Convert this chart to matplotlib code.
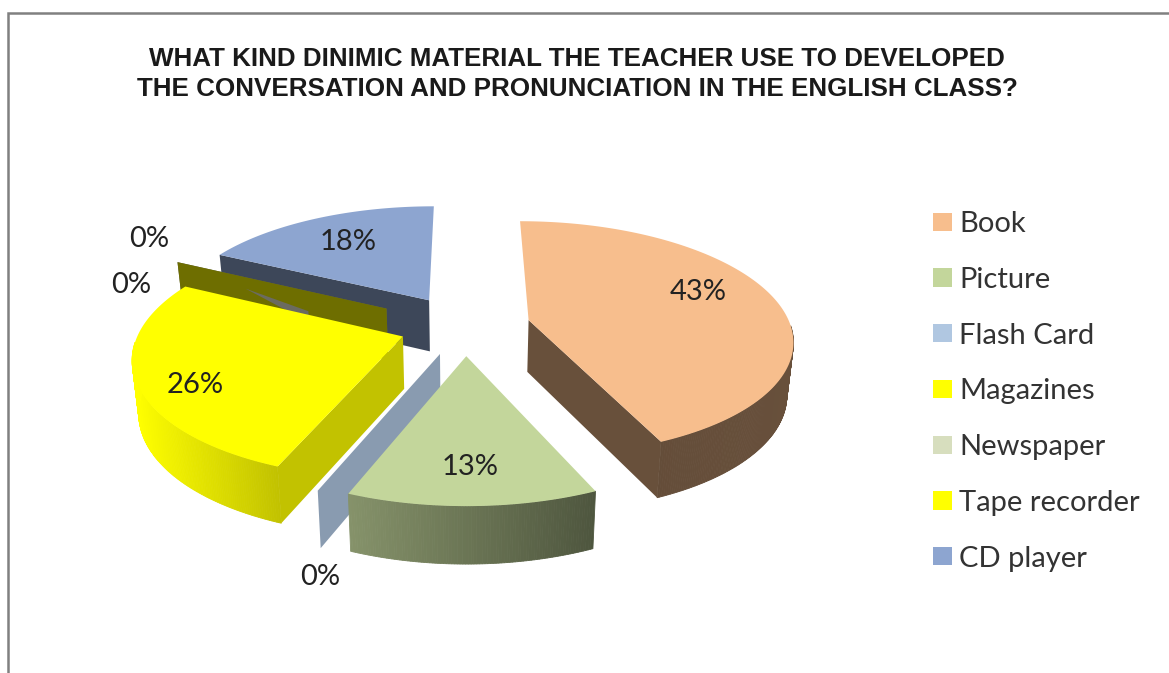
import numpy as np
import matplotlib
matplotlib.use("Agg")
import matplotlib.pyplot as plt
from matplotlib.patches import Polygon, Patch

TITLE = ["WHAT KIND DINIMIC MATERIAL THE TEACHER USE TO DEVELOPED",
         "THE CONVERSATION AND PRONUNCIATION IN THE ENGLISH CLASS?"]
categories = ["Book", "Picture", "Flash Card", "Magazines", "Newspaper", "Tape recorder", "CD player"]
values = [43.4, 12.6, 0, 26.4, 0, 0, 17.6]

colors = ["#F7BE8D", "#C3D69B", "#B0C7E1", "#FFFF00", "#D7DEBE", "#FFFF00", "#8DA5D0"]
cut_shade = [0.42, 0.5, 0.78, 0.76, 0.45, 0.43, 0.43]
explode = [0.25, 0.25, 0.25, 0.25, 0.343, 0.343, 0.27]
label_xy = [(698, 292), (470, 467), (320, 577), (195, 385), (131, 285), (149, 239), (348, 242)]
draw_order = [6, 4, 5, 0, 2, 3, 1]

W, H = 1169, 673
CX, CY, A, B, P, DEPTH = 465, 326, 116, 262, 0.156, 52
plt.rcParams["font.family"] = ["Lato", "DejaVu Sans"]

fig = plt.figure(figsize=(W / 100, H / 100), dpi=100)
ax = fig.add_axes([0, 0, 1, 1])
ax.set_xlim(0, W)
ax.set_ylim(H, 0)
ax.axis("off")

# slice angles, clockwise from 12 o'clock
fractions = np.array(values, float) / sum(values)
ends = np.cumsum(fractions) * 360
starts = ends - fractions * 360


def project(X, Y):
    w = 1 + P * Y
    return CX + B * X / w, CY - A * Y / w


def lower(X, Y):
    x, y = project(X, Y)
    w = 1 + P * Y
    return CX + (x - CX) * 0.98, y + DEPTH / np.sqrt(w)


def shade_at(x):
    return np.interp(x, [133, 283, 352, 596, 790], [1.0, 0.75, 0.68, 0.40, 0.42])


def tint(color, f):
    r, g, b = matplotlib.colors.to_rgb(color)
    return r * f, g * f, b * f


def edge_quad(off, angle):
    rad = np.radians(angle)
    X = np.array([off[0], off[0] + np.sin(rad)])
    Y = np.array([off[1], off[1] + np.cos(rad)])
    tx, ty = project(X, Y)
    bx, by = lower(X, Y)
    return np.array([[tx[0], ty[0]], [tx[1], ty[1]], [bx[1], by[1]], [bx[0], by[0]]])


for order, i in enumerate(draw_order):
    z = order + 1
    a0, a1 = starts[i], ends[i]
    mid = np.radians((a0 + a1) / 2)
    off = (explode[i] * np.sin(mid), explode[i] * np.cos(mid))
    col = colors[i]

    if fractions[i] == 0:
        q = edge_quad(off, a0)
        ax.add_patch(Polygon(q, closed=True, fc=tint(col, cut_shade[i]), ec="none", zorder=z))
        if categories[i] == "Tape recorder":
            # thin grey trace where the Newspaper plane shows through this one
            def on_quad(s, t):
                return (q[0] * (1 - s) + q[1] * s) * (1 - t) + (q[3] * (1 - s) + q[2] * s) * t
            ax.add_patch(Polygon([on_quad(0.68, 0.23), on_quad(0.38, 0.40), on_quad(0.38, 0.62)],
                                 closed=True, fc="#6B6B60", ec="none", zorder=z))
        continue

    th = np.radians(np.linspace(a0, a1, int(a1 - a0) * 2 + 2))
    X = off[0] + np.sin(th)
    Y = off[1] + np.cos(th)
    tx, ty = project(X, Y)
    bx, by = lower(X, Y)

    # outer rim, in narrow strips so the shading varies along it
    for k in range(len(th) - 1):
        if np.cos((th[k] + th[k + 1]) / 2) < -0.05:
            q = [(tx[k], ty[k]), (tx[k + 1], ty[k + 1]), (bx[k + 1], by[k + 1]), (bx[k], by[k])]
            c = tint(col, shade_at((tx[k] + tx[k + 1]) / 2))
            ax.add_patch(Polygon(q, closed=True, fc=c, ec=c, lw=0.6, zorder=z))

    # cut faces that look toward the viewer
    if np.cos(np.radians(a0 - 90)) < -0.01:
        ax.add_patch(Polygon(edge_quad(off, a0), closed=True, fc=tint(col, cut_shade[i]), ec="none", zorder=z))
    if np.cos(np.radians(a1 + 90)) < -0.01:
        ax.add_patch(Polygon(edge_quad(off, a1), closed=True, fc=tint(col, cut_shade[i]), ec="none", zorder=z))

    # top surface
    ax0, ay0 = project(off[0], off[1])
    top = np.column_stack([np.r_[ax0, tx], np.r_[ay0, ty]])
    ax.add_patch(Polygon(top, closed=True, fc=col, ec="none", zorder=z))

for val, (lx, ly) in zip(values, label_xy):
    ax.text(lx, ly, f"{val:.0f}%", fontsize=21, color="#222222", ha="center", va="center", zorder=20)

for line, ly in zip(TITLE, (59, 89)):
    ax.text(577, ly, line, family="Liberation Sans", fontweight="bold", fontsize=18.7,
            color="#1a1a1a", ha="center", va="center")

handles = [Patch(fc=c, ec="none") for c in colors]
fig.legend(handles, categories, loc="upper left", bbox_to_anchor=(933 / W, 1 - 211 / H), frameon=False,
           fontsize=21, labelcolor="#333333", borderpad=0, borderaxespad=0, labelspacing=1.02,
           handlelength=0.65, handleheight=0.58, handletextpad=0.24)

# chart frame: only the top and left borders fall inside the image
ax.plot([8, 8, W], [H, 13, 13], color="#808080", lw=1.8, solid_joinstyle="miter", zorder=0)

fig.savefig("out.png", dpi=100)
